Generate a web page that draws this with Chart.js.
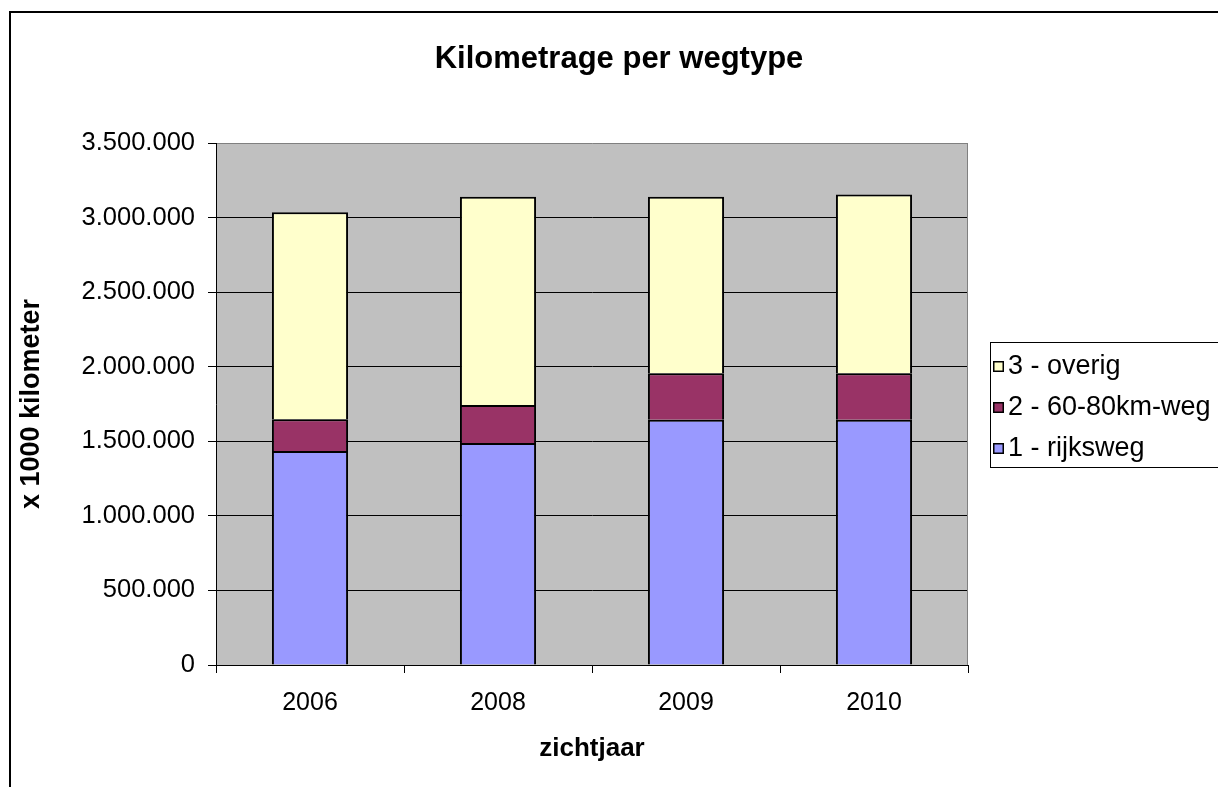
<!DOCTYPE html>
<html>
<head>
<meta charset="utf-8">
<script src="https://cdn.jsdelivr.net/npm/chart.js@4.4.1/dist/chart.umd.min.js"></script>
<style>
  html, body { margin: 0; padding: 0; background: #fff; overflow: hidden; width: 1218px; height: 787px; }
  #frame { position: absolute; left: 9px; top: 11px; width: 3000px; height: 3000px; border-top: 2px solid #000; border-left: 2px solid #000; }
  #c { position: absolute; left: 0; top: 0; }
</style>
</head>
<body>
<div id="frame"></div>
<canvas id="c" width="1218" height="787"></canvas>
<script>
// ---- data ----
const chartTitle = 'Kilometrage per wegtype';
const years = ['2006', '2008', '2009', '2010'];
const seriesNames = ['1 - rijksweg', '2 - 60-80km-weg', '3 - overig'];
const rijksweg = [1435000, 1488000, 1645000, 1645000];
const weg6080 = [212000, 255000, 312000, 312000];
const overig = [1388000, 1397000, 1183000, 1197000];
const yTitle = 'x 1000 kilometer';
const xTitle = 'zichtjaar';
const yMin = 0, yMax = 3500000, yStep = 500000;

const FONT = '"Liberation Sans", Arial, sans-serif';
const colors = ['#9999FF', '#993366', '#FFFFCC'];

function fmt(v) {
  return String(Math.round(v)).replace(/\B(?=(\d{3})+(?!\d))/g, '.');
}

const plotBg = {
  id: 'plotBg',
  beforeDraw(chart) {
    const {ctx, chartArea: a} = chart;
    ctx.save();
    ctx.fillStyle = '#C0C0C0';
    ctx.fillRect(a.left, a.top, a.right - a.left, a.bottom - a.top);
    ctx.restore();
  },
  afterDatasetsDraw(chart) {
    const {ctx, chartArea: a} = chart;
    ctx.save();
    ctx.strokeStyle = '#808080';
    ctx.lineWidth = 1;
    ctx.beginPath();
    ctx.moveTo(Math.round(a.right) - 0.5, Math.round(a.top));
    ctx.lineTo(Math.round(a.right) - 0.5, Math.round(a.bottom));
    ctx.stroke();
    ctx.restore();
  },
  afterDraw(chart) {
    const {ctx} = chart;
    ctx.save();
    // title
    ctx.fillStyle = '#000';
    ctx.font = 'bold 31px ' + FONT;
    ctx.textAlign = 'center';
    ctx.textBaseline = 'middle';
    ctx.fillText(chartTitle, 619, 59);
    // legend
    const lx = 990, ly = 342, lw = 300, lh = 125;
    ctx.strokeStyle = '#000';
    ctx.lineWidth = 1;
    ctx.strokeRect(lx + 0.5, ly + 0.5, lw, lh);
    ctx.font = '27px ' + FONT;
    ctx.textAlign = 'left';
    const ds = chart.data.datasets;
    const rowY = [366, 407, 448];
    for (let i = 0; i < ds.length; i++) {
      const d = ds[ds.length - 1 - i];
      const y = rowY[i];
      const s = 11;
      const top = Math.round(y - s / 2);
      ctx.fillStyle = d.backgroundColor;
      ctx.fillRect(993, top, s, s);
      ctx.strokeStyle = '#000';
      ctx.lineWidth = 1.5;
      ctx.strokeRect(993.75, top + 0.75, s - 1.5, s - 1.5);
      ctx.fillStyle = '#000';
      ctx.fillText(d.label, 1008, y + 1);
    }
    ctx.restore();
  }
};

new Chart(document.getElementById('c'), {
  type: 'bar',
  data: {
    labels: years,
    datasets: [
      { label: seriesNames[0], data: rijksweg, backgroundColor: colors[0] },
      { label: seriesNames[1], data: weg6080, backgroundColor: colors[1] },
      { label: seriesNames[2], data: overig, backgroundColor: colors[2] }
    ]
  },
  options: {
    responsive: false,
    animation: false,
    devicePixelRatio: 1,
    layout: { padding: { top: 143, right: 250, bottom: 0, left: 0 } },
    datasets: {
      bar: {
        borderColor: '#000',
        borderWidth: 2,
        barPercentage: 0.405,
        categoryPercentage: 1
      }
    },
    plugins: {
      legend: { display: false },
      title: { display: false },
      tooltip: { enabled: false }
    },
    scales: {
      x: {
        stacked: true,
        afterFit(scale) { scale.height = 122; },
        grid: { display: true, drawOnChartArea: false, offset: true, tickLength: 8, color: '#000', lineWidth: 1 },
        border: { display: true, color: '#000', width: 1 },
        ticks: { color: '#000', font: { family: FONT, size: 25 }, padding: 15, maxRotation: 0 },
        title: { display: true, text: xTitle, color: '#000', font: { family: FONT, size: 26, weight: 'bold' }, padding: { top: 0, bottom: 23 } }
      },
      y: {
        stacked: true,
        min: yMin,
        max: yMax,
        afterFit(scale) { scale.width = 216; },
        ticks: { stepSize: yStep, color: '#000', font: { family: FONT, size: 25.5 }, padding: 13, callback: v => fmt(v) },
        grid: {
          color: ctx => (ctx.tick && ctx.tick.value === yMax) ? '#808080' : '#000',
          tickColor: '#000',
          tickLength: 8,
          lineWidth: 1
        },
        border: { display: true, color: '#000', width: 1 },
        title: { display: true, text: yTitle, color: '#000', font: { family: FONT, size: 27, weight: 'bold' }, padding: { top: 15, bottom: 0 } }
      }
    }
  },
  plugins: [plotBg]
});
</script>
</body>
</html>
